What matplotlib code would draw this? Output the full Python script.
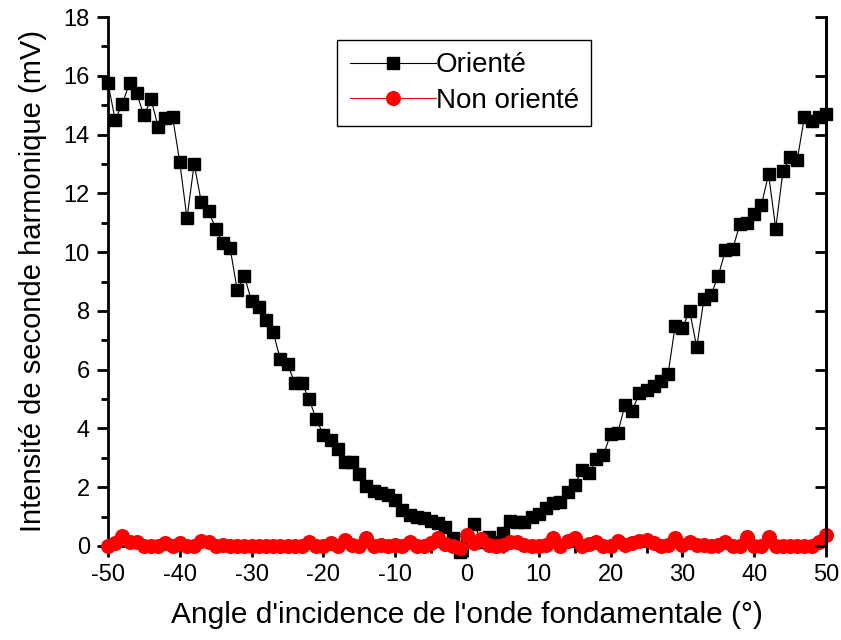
import matplotlib
matplotlib.use("Agg")
import matplotlib.pyplot as plt
import numpy as np
from matplotlib.ticker import MultipleLocator

plt.rcParams['font.family'] = ['Liberation Sans', 'DejaVu Sans']
plt.rcParams['axes.unicode_minus'] = False

angles = list(range(-50, 51))

oriente = [15.75, 14.5, 15.05, 15.75, 15.4, 14.65, 15.2, 14.25, 14.55, 14.6,
           13.05, 11.15, 13.0, 11.7, 11.4, 10.8, 10.3, 10.15, 8.7, 9.18,
           8.33, 8.12, 7.7, 7.28, 6.35, 6.2, 5.55, 5.55, 5.0, 4.32,
           3.78, 3.6, 3.3, 2.86, 2.86, 2.45, 2.04, 1.87, 1.8, 1.73,
           1.55, 1.22, 1.05, 0.99, 0.95, 0.85, 0.78, 0.65, 0.27, -0.2,
           0.2,
           0.75, 0.15, 0.3, 0.15, 0.45, 0.85, 0.8, 0.8, 1.0, 1.1,
           1.3, 1.45, 1.5, 1.85, 2.07, 2.6, 2.5, 2.95, 3.1, 3.8,
           3.85, 4.8, 4.6, 5.2, 5.3, 5.45, 5.6, 5.85, 7.5, 7.42,
           8.0, 6.77, 8.4, 8.55, 9.2, 10.07, 10.1, 10.95, 11.0, 11.3,
           11.6, 12.65, 10.8, 12.75, 13.25, 13.15, 14.6, 14.45, 14.6, 14.7]

non_oriente = [0.0, 0.1, 0.35, 0.15, 0.15, 0.0, 0.0, 0.0, 0.1, 0.0,
               0.1, 0.0, 0.0, 0.18, 0.12, 0.0, 0.05, 0.0, 0.0, 0.0,
               0.0, 0.0, 0.0, 0.0, 0.0, 0.0, 0.0, 0.0, 0.15, 0.0,
               0.0, 0.1, 0.0, 0.2, 0.05, 0.0, 0.27, 0.0, 0.02, 0.0,
               0.02, 0.0, 0.15, 0.0, 0.0, 0.1, 0.28, 0.08, 0.0, -0.08,
               0.38,
               0.1, 0.25, 0.05, 0.0, 0.05, 0.15, 0.15, 0.05, 0.0, 0.0,
               0.05, 0.28, 0.0, 0.18, 0.28, 0.0, 0.08, 0.15, 0.0, 0.0,
               0.16, 0.05, 0.1, 0.18, 0.2, 0.1, 0.0, 0.05, 0.28, 0.05,
               0.14, 0.05, 0.05, 0.0, 0.05, 0.15, 0.0, 0.0, 0.3, 0.0,
               0.0, 0.3, 0.0, 0.0, 0.0, 0.0, 0.0, 0.0, 0.15, 0.37]

fig = plt.figure(figsize=(8.41, 6.40), dpi=100)
ax = fig.add_axes([108/841, 1-546/640, (826-108)/841, (546-17)/640])

ax.plot(angles, oriente, color='black', lw=0.8, marker='s', markersize=8.5,
        markerfacecolor='black', markeredgecolor='black', label='Orienté',
        zorder=3, clip_on=False)
ax.plot(angles, non_oriente, color='red', lw=0.8, marker='o', markersize=9.8,
        markerfacecolor='red', markeredgecolor='red', label='Non orienté',
        zorder=4, clip_on=False)

ax.set_xlim(-50, 50)
ax.set_ylim(0, 18)
ax.xaxis.set_major_locator(MultipleLocator(10))
ax.xaxis.set_minor_locator(MultipleLocator(5))
ax.yaxis.set_major_locator(MultipleLocator(2))
ax.yaxis.set_minor_locator(MultipleLocator(1))

for s in ['left', 'right', 'bottom']:
    ax.spines[s].set_linewidth(2)
ax.spines['top'].set_visible(False)

ax.tick_params(axis='both', which='major', direction='out', length=8, width=2,
               labelsize=17, pad=5)
ax.tick_params(axis='both', which='minor', direction='out', length=5, width=2)
ax.tick_params(axis='y', which='both', right=False)

# inward ticks on right spine
ax2 = ax.twinx()
ax2.set_ylim(0, 18)
ax2.yaxis.set_major_locator(MultipleLocator(2))
ax2.yaxis.set_minor_locator(MultipleLocator(1))
ax2.tick_params(axis='y', which='major', direction='in', length=8, width=2, labelright=False)
ax2.tick_params(axis='y', which='minor', direction='in', length=0)
for s in ax2.spines.values():
    s.set_visible(False)
ax2.spines['right'].set_visible(True)
ax2.spines['right'].set_linewidth(2)

ax.set_xlabel("Angle d'incidence de l'onde fondamentale (°)", fontsize=21.5, labelpad=11)
ax.set_ylabel("Intensité de seconde harmonique (mV)", fontsize=21, labelpad=12)

leg = ax.legend(loc='upper left', bbox_to_anchor=(0.319, 0.957), fontsize=20,
                frameon=True, fancybox=False, edgecolor='black', framealpha=1,
                handlelength=3.1, borderpad=0.45, labelspacing=0.35, handletextpad=0.0,
                borderaxespad=0)
leg.get_frame().set_linewidth(1.0)

fig.savefig('out.png', dpi=100)
